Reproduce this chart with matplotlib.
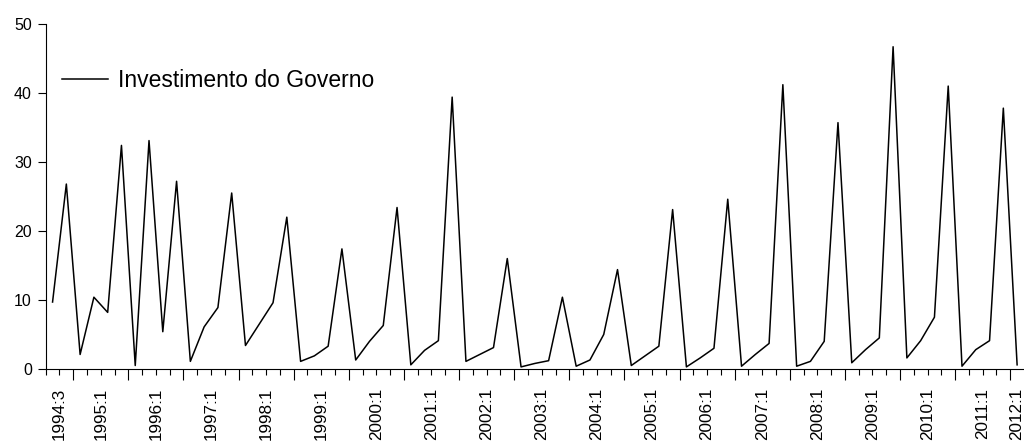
import matplotlib.pyplot as plt
import numpy as np

# Investimento do Governo, trimestral 1994:3 - 2012:1
start_year = 1994
start_quarter = 3
valores = [
    9.7, 26.8,
    2.1, 10.4, 8.2, 32.4,
    0.5, 33.1, 5.4, 27.2,
    1.1, 6.1, 8.9, 25.5,
    3.4, 6.5, 9.6, 22.0,
    1.1, 1.9, 3.3, 17.4,
    1.3, 4.0, 6.3, 23.4,
    0.6, 2.7, 4.1, 39.4,
    1.1, 2.1, 3.1, 16.0,
    0.3, 0.8, 1.2, 10.4,
    0.4, 1.3, 5.0, 14.4,
    0.5, 1.9, 3.3, 23.1,
    0.3, 1.6, 3.0, 24.6,
    0.4, 2.1, 3.7, 41.2,
    0.4, 1.1, 4.0, 35.7,
    0.9, 2.8, 4.5, 46.7,
    1.6, 4.1, 7.5, 41.0,
    0.4, 2.8, 4.1, 37.8,
    0.6,
]
serie_label = 'Investimento do Governo'

plt.rcParams['font.family'] = ['Liberation Sans', 'DejaVu Sans']

n = len(valores)
idx = np.arange(n)
anos = [start_year + (start_quarter - 1 + i) // 4 for i in range(n)]
trims = [(start_quarter - 1 + i) % 4 + 1 for i in range(n)]

fig = plt.figure(figsize=(10.24, 4.44), dpi=100)
ax = fig.add_axes([0.0446, 0.169, 0.9554, 0.777])

ax.plot(idx, valores, color='black', linewidth=1.1, label=serie_label)

ax.set_xlim(-0.5, n - 0.5)
ax.set_ylim(0, 50)

ax.spines['top'].set_visible(False)
ax.spines['right'].set_visible(False)

ax.set_yticks([0, 10, 20, 30, 40, 50])
ax.tick_params(axis='y', direction='out', length=5.5, width=0.8, labelsize=11.5, pad=4.5)

# ticks nos limites dos trimestres, maiores no inicio de cada ano
q1 = [i - 0.5 for i in idx if trims[i] == 1]
ax.set_xticks(q1)
ax.set_xticklabels([])
ax.set_xticks(idx - 0.5, minor=True)
ax.tick_params(axis='x', which='major', direction='out', length=8, width=0.8)
ax.tick_params(axis='x', which='minor', direction='out', length=4.3, width=0.8)

# rotulos no centro de cada ano
for ano in sorted(set(anos)):
    pos = [i for i in idx if anos[i] == ano]
    txt = f'{ano}:{trims[pos[0]]}'
    ax.annotate(txt, xy=(np.mean(pos), 0), xycoords=('data', 'axes fraction'),
                xytext=(0, -13.5), textcoords='offset points',
                rotation=90, ha='center', va='top', fontsize=12.3)

ax.legend(loc='upper left', bbox_to_anchor=(0.0, 0.917), frameon=False,
          fontsize=16.5, handlelength=2.0, handletextpad=0.45, borderaxespad=0.3)

fig.savefig('out.png', dpi=100)
